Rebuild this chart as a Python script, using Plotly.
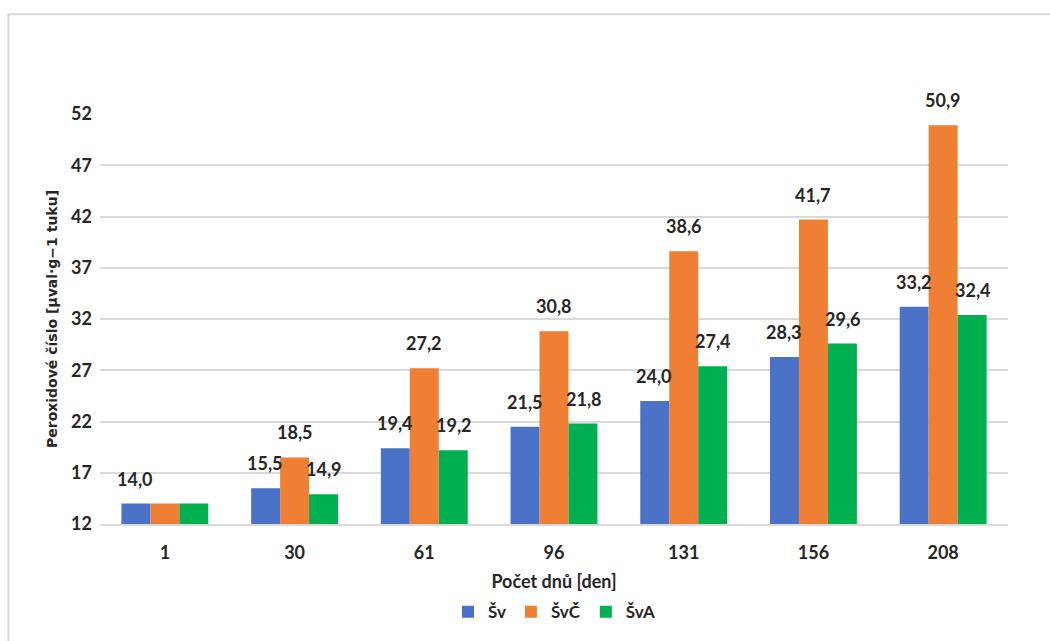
import plotly.graph_objects as go

days = ["1", "30", "61", "96", "131", "156", "208"]
sv = [14.0, 15.5, 19.4, 21.5, 24.0, 28.3, 33.2]
svc = [14.0, 18.5, 27.2, 30.8, 38.6, 41.7, 50.9]
sva = [14.0, 14.9, 19.2, 21.8, 27.4, 29.6, 32.4]
series_names = ["Šv", "ŠvČ", "ŠvA"]
y_ticks = [12, 17, 22, 27, 32, 37, 42, 47, 52]

colors = ["#4a73c8", "#ee7f35", "#00b050"]
series = [sv, svc, sva]
font_family = "Lato, 'Open Sans', sans-serif"
text_color = "#262626"

fig = go.Figure()
for name, vals, col in zip(series_names, series, colors):
    fig.add_trace(go.Bar(
        x=days, y=vals, name=name,
        marker=dict(color=col, line=dict(width=0)),
    ))

# value labels above each bar (day 1 labelled once, the three values coincide);
# x is the category index on the categorical axis
shifts = [-29.5, 0, 29.5]
for i, vals in enumerate(series):
    for j, v in enumerate(vals):
        if j == 0 and i != 0:
            continue
        fig.add_annotation(
            x=j, y=v, xref="x", yref="y",
            text=f"{v:.1f}".replace(".", ","),
            showarrow=False, xshift=shifts[i], yshift=12,
            yanchor="bottom",
            font=dict(family=font_family, size=18, color=text_color, weight="bold"),
        )

# light frame around the chart
fig.add_shape(
    type="path", xref="paper", yref="paper",
    path="M -0.1008,-1 L -0.1008,1.2433 L 1.2,1.2433",
    line=dict(color="#d9d9d9", width=2),
)

fig.update_layout(
    width=1050, height=641,
    margin=dict(l=100, r=42, t=114, b=116),
    paper_bgcolor="white", plot_bgcolor="white",
    barmode="group", bargap=0.33, bargroupgap=0,
    font=dict(family=font_family, color=text_color),
    showlegend=True,
    legend=dict(
        orientation="h", x=0.5, xanchor="center", y=-0.212, yanchor="middle",
        font=dict(family=font_family, size=17, color=text_color, weight="bold"),
        itemwidth=30, tracegroupgap=0,
    ),
    xaxis=dict(
        type="category", categoryorder="array", categoryarray=days,
        range=[-0.5, len(days) - 0.5],
        showgrid=False, showline=True, linecolor="#d9d9d9", linewidth=1.5,
        ticks="", ticklabelstandoff=12,
        tickfont=dict(family=font_family, size=18, color=text_color, weight="bold"),
        title=dict(text="Počet dnů [den]", standoff=13,
                   font=dict(family=font_family, size=18, color=text_color, weight="bold")),
    ),
    yaxis=dict(
        range=[12, 52], tickvals=y_ticks,
        showgrid=True, gridcolor="#d9d9d9", gridwidth=1.5,
        zeroline=False, showline=False, ticks="", ticklabelstandoff=7,
        tickfont=dict(family=font_family, size=18, color=text_color, weight="bold"),
        title=dict(text="Peroxidové číslo [µval·g−1 tuku]", standoff=10,
                   font=dict(family="'DejaVu Sans', sans-serif", size=14,
                             color=text_color, weight="bold")),
    ),
)

fig.write_html("out.html")
